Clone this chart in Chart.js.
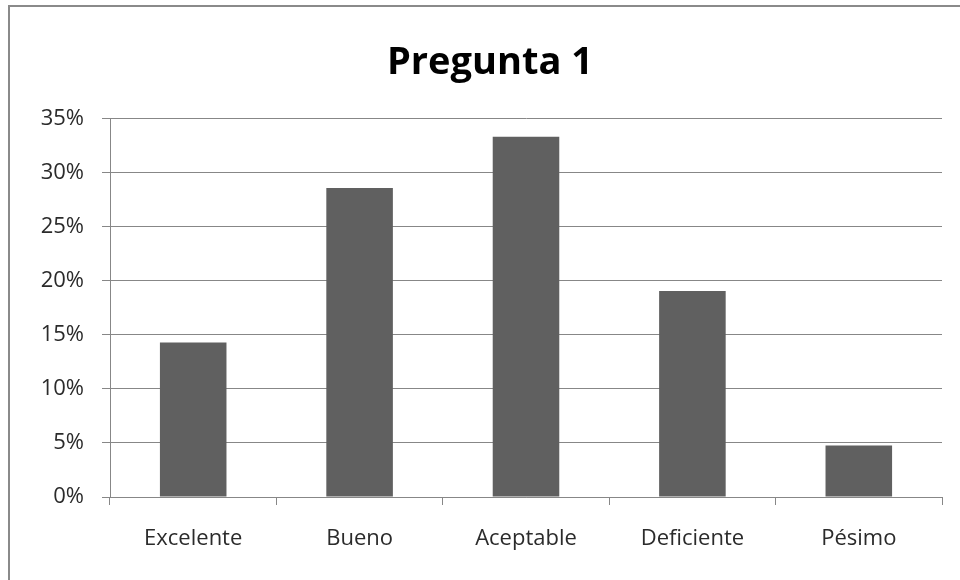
<!DOCTYPE html>
<html>
<head>
<meta charset="utf-8">
<script src="https://cdn.jsdelivr.net/npm/chart.js@4"></script>
<style>
  html, body { margin: 0; padding: 0; background: #fff; }
  #wrap { width: 960px; height: 580px; }
</style>
</head>
<body>
<div id="wrap"><canvas id="chart" width="960" height="580"></canvas></div>
<script>
// Pregunta 1 — answer distribution
const categories = ['Excelente', 'Bueno', 'Aceptable', 'Deficiente', 'Pésimo'];
const shares = [0.1429, 0.2857, 0.3333, 0.1905, 0.0476];
const yTicks = [0, 0.05, 0.10, 0.15, 0.20, 0.25, 0.30, 0.35];

const GRID = '#878787';
const TEXT = '#2b2b2b';
const FONT = "'Open Sans', 'Liberation Sans', sans-serif";

// draws the outer chart frame (only left/top show inside the window)
// and nudges the title a bit right, like the original
const frame = {
  id: 'frame',
  afterLayout(chart) {
    if (chart.titleBlock) {
      chart.titleBlock.left = 20;
      chart.titleBlock.right = 960;
    }
  },
  beforeDraw(chart) {
    const ctx = chart.ctx;
    ctx.save();
    ctx.strokeStyle = '#8a8a8a';
    ctx.lineWidth = 2;
    ctx.beginPath();
    ctx.moveTo(9, 580);
    ctx.lineTo(9, 6);
    ctx.lineTo(960, 6);
    ctx.stroke();
    ctx.restore();
  }
};

new Chart(document.getElementById('chart'), {
  type: 'bar',
  data: {
    labels: categories,
    datasets: [{
      data: shares,
      backgroundColor: '#606060',
      borderWidth: 0,
      categoryPercentage: 1,
      barPercentage: 0.4,
    }]
  },
  options: {
    responsive: false,
    animation: false,
    layout: { padding: { left: 20, right: 18, top: 0, bottom: 0 } },
    plugins: {
      legend: { display: false },
      tooltip: { enabled: false },
      title: {
        display: true,
        text: 'Pregunta 1',
        color: '#000',
        font: { family: FONT, size: 38, weight: 'bold', lineHeight: 1.2 },
        padding: { top: 40, bottom: 33 }
      }
    },
    scales: {
      x: {
        grid: {
          offset: true,
          drawOnChartArea: false,
          color: GRID,
          tickLength: 8,
        },
        border: { color: GRID, width: 1 },
        ticks: {
          color: TEXT,
          font: { family: FONT, size: 22 },
          padding: 21,
          maxRotation: 0,
        },
        afterFit(scale) { scale.height = 83; }
      },
      y: {
        min: 0,
        max: 0.35,
        afterBuildTicks(scale) {
          scale.ticks = yTicks.map(v => ({ value: v }));
        },
        grid: { color: GRID, tickLength: 8 },
        border: { color: GRID, width: 1 },
        ticks: {
          color: TEXT,
          font: { family: FONT, size: 22 },
          padding: 18,
          callback: v => Math.round(v * 100) + '%'
        },
        afterFit(scale) { scale.width = 90; }
      }
    }
  },
  plugins: [frame]
});
</script>
</body>
</html>
